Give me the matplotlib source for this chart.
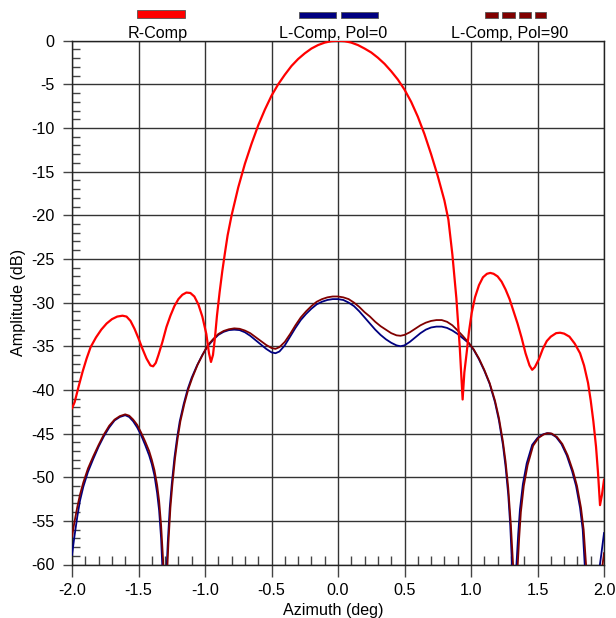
import matplotlib
matplotlib.use("Agg")
import matplotlib.pyplot as plt
from matplotlib.patches import Rectangle
from matplotlib.ticker import MultipleLocator, FormatStrFormatter

plt.rcParams['font.family'] = ['Liberation Sans', 'DejaVu Sans']

# ---- data (azimuth deg, amplitude dB) ----
r_az = [-2.0, -1.98, -1.95, -1.92, -1.89, -1.86, -1.82, -1.78, -1.74, -1.70,
        -1.66, -1.62, -1.59, -1.56, -1.53, -1.50, -1.47, -1.44, -1.41, -1.39,
        -1.37, -1.35, -1.32, -1.29, -1.26, -1.23, -1.20, -1.17, -1.14, -1.11,
        -1.08, -1.05, -1.02, -0.99, -0.97, -0.955, -0.94, -0.925, -0.91, -0.89,
        -0.87, -0.85, -0.83, -0.80, -0.75, -0.70, -0.65, -0.60, -0.55, -0.50, -0.45,
        -0.40, -0.35, -0.30, -0.25, -0.20, -0.15, -0.10, -0.05, 0.0, 0.05,
        0.10, 0.15, 0.20, 0.25, 0.30, 0.35, 0.40, 0.45, 0.50, 0.55,
        0.60, 0.65, 0.70, 0.75, 0.80, 0.83, 0.86, 0.89, 0.915, 0.937,
        0.95, 0.967, 0.985, 1.005, 1.03, 1.06, 1.09, 1.12, 1.145, 1.17,
        1.20, 1.23, 1.26, 1.29, 1.32, 1.35, 1.38, 1.41, 1.44, 1.46,
        1.48, 1.51, 1.54, 1.57, 1.60, 1.64, 1.67, 1.70, 1.74, 1.78,
        1.82, 1.85, 1.88, 1.90, 1.92, 1.94, 1.955, 1.97, 1.985, 2.0]
r_db = [-42.1, -41.4, -39.6, -37.9, -36.4, -35.1, -34.0, -33.1, -32.4, -31.9,
        -31.6, -31.5, -31.6, -32.1, -33.0, -34.1, -35.3, -36.4, -37.2, -37.3,
        -36.9, -36.0, -34.5, -32.8, -31.5, -30.4, -29.6, -29.1, -28.85, -28.9,
        -29.3, -30.2, -31.6, -33.6, -35.8, -36.8, -36.0, -34.0, -31.5, -28.8,
        -26.4, -24.3, -22.3, -20.0, -16.8, -14.1, -11.8, -9.7, -7.9, -6.3, -5.0,
        -3.9, -2.9, -2.1, -1.45, -0.9, -0.5, -0.22, -0.05, 0.0, -0.05,
        -0.22, -0.5, -0.9, -1.35, -1.95, -2.65, -3.5, -4.45, -5.6, -7.0,
        -8.7, -10.7, -13.0, -15.5, -18.3, -20.5, -24.5, -29.5, -35.0, -41.1,
        -38.0, -35.8, -33.3, -31.2, -29.4, -28.0, -27.1, -26.7, -26.6, -26.7,
        -27.0, -27.6, -28.5, -29.6, -31.0, -32.4, -34.0, -35.8, -37.2, -37.7,
        -37.4, -36.5, -35.3, -34.4, -33.9, -33.5, -33.45, -33.55, -33.9, -34.7,
        -35.8, -37.2, -39.2, -41.2, -43.6, -46.5, -49.5, -53.2, -52.0, -50.3]

l0_az = [-2.0, -1.98, -1.96, -1.94, -1.915, -1.88, -1.84, -1.80, -1.76, -1.72,
         -1.68, -1.64, -1.60, -1.57, -1.54, -1.51, -1.48, -1.45, -1.42, -1.40,
         -1.38, -1.36, -1.345, -1.33, -1.32, -1.307, -1.29, -1.28, -1.265, -1.25,
         -1.23, -1.21, -1.19, -1.16, -1.13, -1.10, -1.06, -1.02, -0.98, -0.94,
         -0.90, -0.86, -0.82, -0.78, -0.74, -0.70, -0.66, -0.62, -0.58, -0.54,
         -0.50, -0.47, -0.44, -0.40, -0.36, -0.32, -0.28, -0.24, -0.20, -0.16,
         -0.12, -0.08, -0.04, 0.0, 0.04, 0.08, 0.12, 0.16, 0.20, 0.24,
         0.28, 0.32, 0.36, 0.40, 0.44, 0.47, 0.50, 0.54, 0.58, 0.62,
         0.66, 0.70, 0.74, 0.78, 0.82, 0.86, 0.90, 0.94, 0.98, 1.02,
         1.06, 1.10, 1.14, 1.18, 1.21, 1.24, 1.26, 1.28, 1.295, 1.31,
         1.325, 1.34, 1.355, 1.368, 1.39, 1.419, 1.46, 1.50, 1.54, 1.57,
         1.60, 1.64, 1.68, 1.72, 1.76, 1.79, 1.82, 1.84, 1.855, 1.91,
         1.965, 1.98, 2.0]
l0_db = [-58.9, -56.6, -54.5, -52.7, -51.1, -49.4, -47.9, -46.5, -45.3, -44.3,
         -43.5, -43.1, -42.9, -43.1, -43.6, -44.3, -45.2, -46.3, -47.5, -48.5,
         -49.8, -51.8, -53.8, -57.0, -60.5, -70.0, -61.0, -57.5, -53.5, -50.8,
         -47.8, -45.5, -43.6, -41.6, -39.9, -38.6, -37.2, -36.0, -35.0, -34.3,
         -33.7, -33.35, -33.15, -33.1, -33.15, -33.4, -33.8, -34.3, -34.8, -35.3,
         -35.7, -35.8, -35.6, -34.9, -33.9, -32.9, -32.0, -31.3, -30.7, -30.2,
         -29.9, -29.7, -29.6, -29.6, -29.7, -30.0, -30.4, -31.0, -31.7, -32.4,
         -33.1, -33.7, -34.2, -34.6, -34.9, -35.0, -34.9, -34.5, -34.0, -33.5,
         -33.1, -32.85, -32.75, -32.75, -32.9, -33.2, -33.6, -34.1, -34.6, -35.4,
         -36.5, -37.8, -39.3, -41.4, -43.5, -46.3, -48.8, -52.0, -55.5, -60.5,
         -70.0, -60.5, -56.5, -53.7, -50.8, -48.4, -46.3, -45.5, -45.1, -44.96,
         -45.0, -45.4, -46.2, -47.5, -49.3, -51.0, -53.5, -56.0, -60.0, -75.0,
         -60.5, -58.8, -56.4]

l90_az = [-2.0, -1.98, -1.96, -1.94, -1.915, -1.88, -1.84, -1.80, -1.76, -1.72,
          -1.68, -1.64, -1.60, -1.57, -1.54, -1.51, -1.48, -1.45, -1.42, -1.40,
          -1.38, -1.36, -1.345, -1.33, -1.315, -1.30, -1.285, -1.275, -1.26, -1.245,
          -1.225, -1.205, -1.185, -1.155, -1.125, -1.095, -1.055, -1.015, -0.98, -0.94,
          -0.90, -0.86, -0.82, -0.78, -0.74, -0.70, -0.66, -0.62, -0.58, -0.54,
          -0.50, -0.47, -0.44, -0.40, -0.36, -0.32, -0.28, -0.24, -0.20, -0.16,
          -0.12, -0.08, -0.04, 0.0, 0.04, 0.08, 0.12, 0.16, 0.20, 0.24,
          0.28, 0.32, 0.36, 0.40, 0.44, 0.47, 0.50, 0.54, 0.58, 0.62,
          0.66, 0.70, 0.74, 0.78, 0.82, 0.86, 0.90, 0.94, 0.98, 1.02,
          1.06, 1.10, 1.14, 1.18, 1.21, 1.24, 1.26, 1.28, 1.30, 1.318,
          1.333, 1.348, 1.362, 1.375, 1.397, 1.426, 1.467, 1.507, 1.547, 1.577,
          1.607, 1.647, 1.687, 1.727, 1.767, 1.797, 1.827, 1.847, 1.865, 1.925,
          1.985, 2.0]
l90_db = [-56.8, -55.0, -53.4, -52.0, -50.6, -49.0, -47.6, -46.3, -45.1, -44.1,
          -43.4, -43.0, -42.8, -42.95, -43.4, -44.0, -44.9, -45.9, -47.0, -48.0,
          -49.2, -50.9, -52.7, -55.5, -59.5, -70.0, -61.0, -57.5, -53.5, -50.8,
          -47.8, -45.5, -43.6, -41.6, -39.9, -38.6, -37.1, -35.9, -34.9, -34.2,
          -33.6, -33.25, -33.05, -32.95, -33.0, -33.2, -33.5, -33.95, -34.4, -34.85,
          -35.2, -35.3, -35.1, -34.5, -33.6, -32.6, -31.7, -31.0, -30.4, -29.9,
          -29.6, -29.4, -29.3, -29.3, -29.4, -29.6, -30.0, -30.5, -31.1, -31.6,
          -32.2, -32.7, -33.1, -33.5, -33.75, -33.8, -33.7, -33.4, -33.0, -32.6,
          -32.3, -32.1, -32.0, -32.0, -32.2, -32.6, -33.2, -33.85, -34.55, -35.35,
          -36.4, -37.7, -39.2, -41.2, -43.2, -45.9, -48.2, -51.2, -55.5, -60.5,
          -70.0, -61.0, -57.0, -54.0, -51.0, -48.6, -46.4, -45.5, -45.1, -44.96,
          -45.0, -45.4, -46.2, -47.5, -49.3, -51.0, -53.5, -56.0, -60.0, -75.0,
          -60.5, -58.7]

series_names = ["R-Comp", "L-Comp, Pol=0", "L-Comp, Pol=90"]
x_ticks = [-2.0, -1.5, -1.0, -0.5, 0.0, 0.5, 1.0, 1.5, 2.0]
y_ticks = [0, -5, -10, -15, -20, -25, -30, -35, -40, -45, -50, -55, -60]

RED = "#ff0000"
NAVY = "#000080"
MAROON = "#800000"

W, H = 616, 618
fig = plt.figure(figsize=(W / 100, H / 100), dpi=100)
L, R, T, B = 72, 604, 40.7, 564.5
ax = fig.add_axes([L / W, (H - B) / H, (R - L) / W, (B - T) / H])

ax.plot(r_az, r_db, color=RED, lw=1.6, zorder=5)
ax.plot(l0_az, l0_db, color=NAVY, lw=1.3, zorder=4)
ax.plot(l90_az, l90_db, color=MAROON, lw=1.3, zorder=4)

ax.set_xlim(-2.0, 2.0)
ax.set_ylim(-60, 0)
ax.set_xticks(x_ticks)
ax.set_yticks(y_ticks)
ax.xaxis.set_major_formatter(FormatStrFormatter('%.1f'))
ax.yaxis.set_major_formatter(FormatStrFormatter('%d'))
ax.xaxis.set_minor_locator(MultipleLocator(0.1))
ax.yaxis.set_minor_locator(MultipleLocator(1))

ax.grid(True, which='major', color='#333333', lw=1.0)
ax.set_axisbelow(True)
for s in ax.spines.values():
    s.set_color('#222222')
    s.set_linewidth(1.0)

ax.tick_params(axis='x', which='major', direction='out', length=8.6, width=1,
               color='#444444', pad=5.0, labelsize=11.6)
ax.tick_params(axis='x', which='minor', direction='in', length=6.5, width=1,
               color='#444444')
ax.tick_params(axis='y', which='major', direction='out', length=6.5, width=1,
               color='#444444', pad=6.0, labelsize=11.6)
ax.tick_params(axis='y', which='minor', direction='in', length=5.8, width=1,
               color='#444444')

# axis labels
fig.text(19 / W, 1 - 302 / H, "Amplitude (dB)", rotation=90, ha='center',
         va='center', fontsize=11.6)
fig.text(333 / W, 1 - 615 / H, "Azimuth (deg)", ha='center', va='baseline',
         fontsize=11.6)

# legend (above plot)
def rect(x0, x1, y0, y1, fc):
    fig.add_artist(Rectangle((x0 / W, 1 - y1 / H), (x1 - x0) / W, (y1 - y0) / H,
                             transform=fig.transFigure, facecolor=fc,
                             edgecolor='#555555', lw=0.6))

rect(137, 185, 10.3, 18.3, RED)
rect(299, 336, 11.5, 17.5, NAVY)
rect(341, 378, 11.5, 17.5, NAVY)
for x0, x1 in [(485, 498), (502, 515), (519, 531), (535, 546)]:
    rect(x0, x1, 11.5, 17.5, MAROON)

for name, cx in zip(series_names, [158, 333, 510]):
    fig.text(cx / W, 1 - 38.3 / H, name, ha='center', va='baseline', fontsize=11.6)

fig.savefig("out.png", dpi=100)
